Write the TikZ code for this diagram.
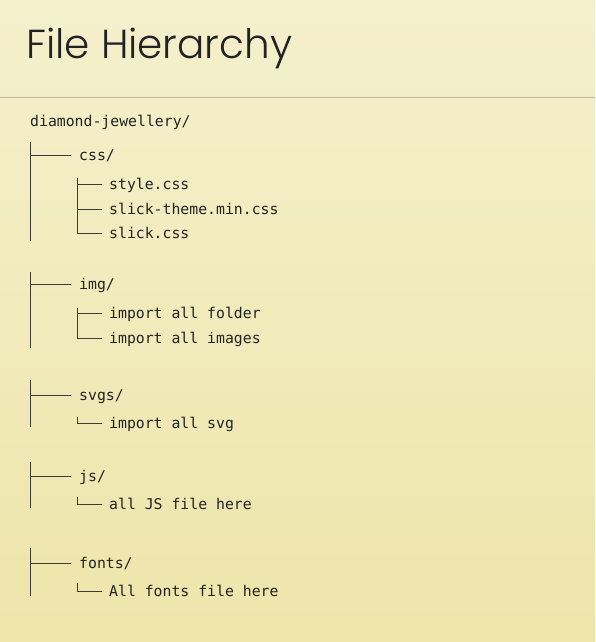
\documentclass[tikz,border=0pt]{standalone}
\usepackage{fontspec}
\newfontfamily\titlefont{Poppins}[UprightFont=* Light]
\newfontfamily\codefont{DejaVu Sans Mono}
\definecolor{bgtop}{HTML}{F4F0CC}
\definecolor{bgbot}{HTML}{EEE5AA}
\definecolor{ink}{HTML}{222222}
\definecolor{rule}{HTML}{BDBBA2}
\definecolor{treeline}{HTML}{3E3C36}
\begin{document}
\begin{tikzpicture}[x=1pt,y=-1pt,
  code/.style={anchor=base west,inner sep=0pt,text=ink,font=\codefont\fontsize{14.8}{16}\selectfont},
  tree/.style={draw=treeline,line width=0.9pt}]
\shade[top color=bgtop,bottom color=bgbot] (0,0) rectangle (595,642);
\useasboundingbox (0,0) rectangle (595,642);
% title
\node[anchor=base west,inner sep=0pt,text=ink,font=\titlefont\fontsize{40.5}{43}\selectfont] (title) at (26,59) {File Hierarchy};
\coordinate (rl) at (0,97.5);
\coordinate (rr) at (595,97.5);
\draw[draw=rule,line width=1pt] (rl) -- (rr);
% text nodes (baselines)
\node[code] (root) at (30,126.5) {diamond-jewellery/};
\node[code] (css) at (79,160.5) {css/};
\node[code] (style) at (109,189.5) {style.css};
\node[code] (slickt) at (109,214.5) {slick-theme.min.css};
\node[code] (slick) at (109,238.5) {slick.css};
\node[code] (img) at (79,289.5) {img/};
\node[code] (folder) at (109,318.5) {import all folder};
\node[code] (images) at (109,343.5) {import all images};
\node[code] (svgs) at (79,400.5) {svgs/};
\node[code] (svg) at (109,428.5) {import all svg};
\node[code] (js) at (79,481.5) {js/};
\node[code] (jsfile) at (109,509.5) {all JS file here};
\node[code] (fonts) at (79,568.5) {fonts/};
\node[code] (fontsfile) at (109,596.5) {All fonts file here};
% main verticals
\coordinate (a1) at (30,142); \coordinate (b1) at (30,241);
\coordinate (a2) at (30,272); \coordinate (b2) at (30,348);
\coordinate (a3) at (30,380); \coordinate (b3) at (30,427);
\coordinate (a4) at (30,462); \coordinate (b4) at (30,508);
\coordinate (a5) at (30,548); \coordinate (b5) at (30,596);
\foreach \i in {1,...,5} {\draw[tree] (a\i) -- (b\i);}
\draw[tree] ([yshift=5.5pt]css.base west -| a1) -- ([xshift=-8pt,yshift=5.5pt]css.base west);
\draw[tree] ([yshift=5.5pt]img.base west -| a2) -- ([xshift=-8pt,yshift=5.5pt]img.base west);
\draw[tree] ([yshift=5.5pt]svgs.base west -| a3) -- ([xshift=-8pt,yshift=5.5pt]svgs.base west);
\draw[tree] ([yshift=5.5pt]js.base west -| a4) -- ([xshift=-8pt,yshift=5.5pt]js.base west);
\draw[tree] ([yshift=5.5pt]fonts.base west -| a5) -- ([xshift=-8pt,yshift=5.5pt]fonts.base west);
% sub verticals
\coordinate (c1) at (77,178);
\coordinate (c2) at (77,308);
\coordinate (c3) at (77,417);
\coordinate (c4) at (77,497);
\coordinate (c5) at (77,583);
\draw[tree] (c1) -- ([yshift=5.5pt]slick.base west -| c1) -- ([xshift=-7pt,yshift=5.5pt]slick.base west);
\draw[tree] ([yshift=5.5pt]style.base west -| c1) -- ([xshift=-7pt,yshift=5.5pt]style.base west);
\draw[tree] ([yshift=5.5pt]slickt.base west -| c1) -- ([xshift=-7pt,yshift=5.5pt]slickt.base west);
\draw[tree] (c2) -- ([yshift=5.5pt]images.base west -| c2) -- ([xshift=-7pt,yshift=5.5pt]images.base west);
\draw[tree] ([yshift=5.5pt]folder.base west -| c2) -- ([xshift=-7pt,yshift=5.5pt]folder.base west);
\draw[tree] (c3) -- ([yshift=5.5pt]svg.base west -| c3) -- ([xshift=-7pt,yshift=5.5pt]svg.base west);
\draw[tree] (c4) -- ([yshift=5.5pt]jsfile.base west -| c4) -- ([xshift=-7pt,yshift=5.5pt]jsfile.base west);
\draw[tree] (c5) -- ([yshift=5.5pt]fontsfile.base west -| c5) -- ([xshift=-7pt,yshift=5.5pt]fontsfile.base west);
\end{tikzpicture}
\end{document}
